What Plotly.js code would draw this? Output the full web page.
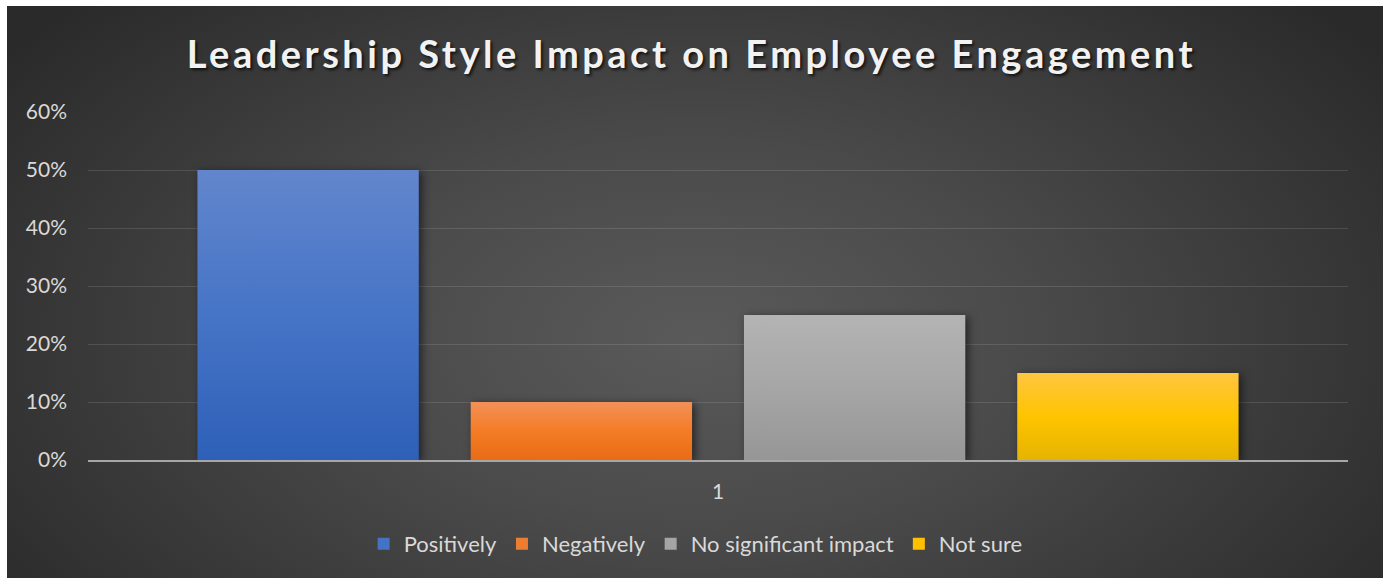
<!DOCTYPE html>
<html>
<head>
<meta charset="utf-8">
<script src="https://cdn.plot.ly/plotly-3.0.1.min.js"></script>
<style>
  html, body { margin: 0; padding: 0; background: #ffffff; }
  #wrap { position: relative; width: 1383px; height: 578px; background: #ffffff; }
  #bg { position: absolute; left: 7px; top: 6px; right: 0; bottom: 0;
        background: radial-gradient(ellipse 62% 85% at 50% 58%, #5a5a5a 0%, #4a4a4a 40%, #2a2a2a 100%); }
  #chart { position: absolute; left: 0; top: 0; width: 1383px; height: 578px; }
  .gtitle { letter-spacing: 3.5px; }
  .trace.bars .point path { filter: drop-shadow(3px 2px 4px rgba(0,0,0,0.55)); }
</style>
</head>
<body>
<div id="wrap"><div id="bg"></div><div id="chart"></div></div>
<script>
const categories = ['1'];
const seriesNames = ['Positively', 'Negatively', 'No significant impact', 'Not sure'];
const seriesValues = [[0.50], [0.10], [0.25], [0.15]];
const seriesColors = ['#4472c4', '#ed7d31', '#a5a5a5', '#ffc000'];
const gradientStops = [
  ['#6286cd', '#4674c6', '#2e60b8'],
  ['#f39058', '#f47c26', '#e96b15'],
  ['#b4b4b4', '#a6a6a6', '#969696'],
  ['#ffc640', '#ffc400', '#e5b300']
];
const tickVals = [0, 0.1, 0.2, 0.3, 0.4, 0.5, 0.6];

const FONT = 'Lato, "Open Sans", sans-serif';

const traces = seriesNames.map((name, i) => ({
  type: 'bar',
  name: name,
  x: categories,
  y: seriesValues[i],
  marker: { color: seriesColors[i], line: { width: 0 } },
  hoverinfo: 'none'
}));

const layout = {
  width: 1383,
  height: 578,
  paper_bgcolor: 'rgba(0,0,0,0)',
  plot_bgcolor: 'rgba(0,0,0,0)',
  margin: { l: 88, r: 35, t: 112, b: 118, pad: 0 },
  barmode: 'group',
  bargap: 0.1325,
  bargroupgap: 0.19,
  title: {
    text: 'Leadership Style Impact on Employee Engagement',
    font: { family: FONT, size: 38, color: '#f2f2f2', weight: 'bold', shadow: '2px 2px 3px rgba(0,0,0,0.7)' },
    x: 0.5, xref: 'container', xanchor: 'center',
    y: 1 - 55 / 578, yref: 'container', yanchor: 'middle'
  },
  xaxis: {
    type: 'category',
    showgrid: false,
    showline: true,
    linecolor: '#a6a6a6',
    linewidth: 2,
    ticks: '',
    tickfont: { family: FONT, size: 21, color: '#d9d9d9' },
    ticklabelstandoff: 12,
    fixedrange: true
  },
  yaxis: {
    range: [0, 0.6],
    tickvals: tickVals,
    tickformat: '.0%',
    showgrid: true,
    gridcolor: 'rgba(255,255,255,0.12)',
    gridwidth: 1,
    zeroline: false,
    showline: false,
    ticks: '',
    tickfont: { family: FONT, size: 21, color: '#d9d9d9' },
    ticklabelstandoff: 20,
    fixedrange: true
  },
  showlegend: true,
  legend: {
    orientation: 'h',
    xref: 'container', yref: 'container',
    x: 0.503, xanchor: 'center',
    y: 1 - 544 / 578, yanchor: 'middle',
    font: { family: FONT, size: 22, color: '#d9d9d9' },
    bgcolor: 'rgba(0,0,0,0)',
    itemwidth: 30,
    traceorder: 'normal'
  }
};

Plotly.newPlot('chart', traces, layout, { displayModeBar: false, staticPlot: true }).then(gd => {
  const svg = gd.querySelector('svg.main-svg');
  const ns = 'http://www.w3.org/2000/svg';
  let defs = svg.querySelector('defs');
  if (!defs) { defs = document.createElementNS(ns, 'defs'); svg.insertBefore(defs, svg.firstChild); }
  gradientStops.forEach((stops, i) => {
    const g = document.createElementNS(ns, 'linearGradient');
    g.setAttribute('id', 'bargrad' + i);
    g.setAttribute('x1', '0'); g.setAttribute('y1', '0');
    g.setAttribute('x2', '0'); g.setAttribute('y2', '1');
    [[0, stops[0]], [0.5, stops[1]], [1, stops[2]]].forEach(([o, c]) => {
      const s = document.createElementNS(ns, 'stop');
      s.setAttribute('offset', o);
      s.setAttribute('stop-color', c);
      g.appendChild(s);
    });
    defs.appendChild(g);
  });
  gd.querySelectorAll('.trace.bars').forEach((tr, i) => {
    tr.querySelectorAll('.point path').forEach(p => { p.style.fill = 'url(#bargrad' + i + ')'; });
  });
});
</script>
</body>
</html>
